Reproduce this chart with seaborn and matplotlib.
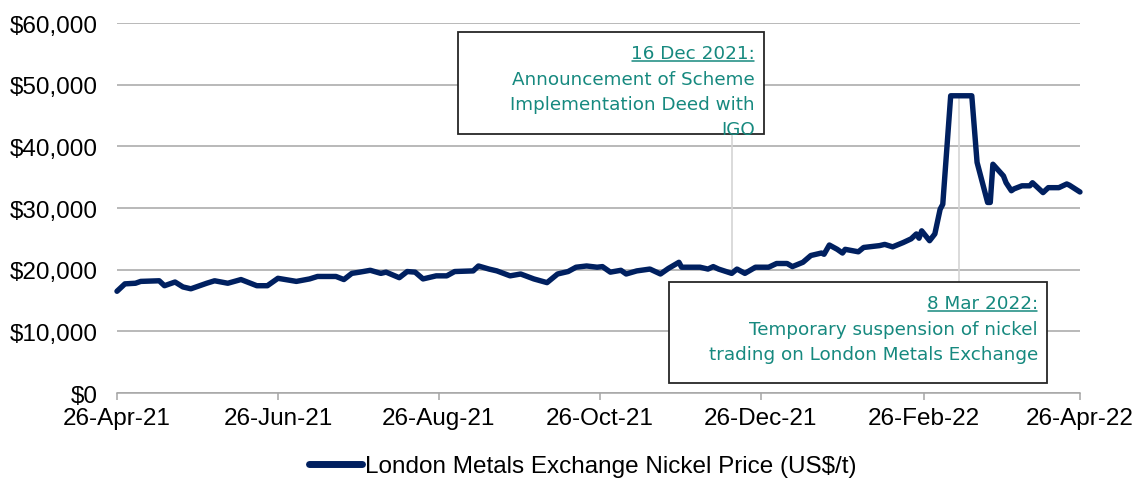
import pandas as pd
import seaborn as sns
import matplotlib.pyplot as plt
import matplotlib.dates as mdates
from matplotlib.patches import Rectangle
from matplotlib.lines import Line2D
from matplotlib.transforms import IdentityTransform

# LME nickel price (US$/t)
dates = [
    '2021-04-26', '2021-04-29', '2021-05-03', '2021-05-05', '2021-05-12', '2021-05-14',
    '2021-05-18', '2021-05-21', '2021-05-24', '2021-05-30', '2021-06-02', '2021-06-07',
    '2021-06-12', '2021-06-18', '2021-06-22', '2021-06-26', '2021-07-03', '2021-07-08',
    '2021-07-11', '2021-07-18', '2021-07-21', '2021-07-24', '2021-07-27', '2021-07-31',
    '2021-08-04', '2021-08-06', '2021-08-11', '2021-08-14', '2021-08-17', '2021-08-20',
    '2021-08-25', '2021-08-29', '2021-09-01', '2021-09-08', '2021-09-10', '2021-09-14',
    '2021-09-17', '2021-09-22', '2021-09-26', '2021-10-01', '2021-10-06', '2021-10-10',
    '2021-10-14', '2021-10-17', '2021-10-21', '2021-10-25', '2021-10-27', '2021-10-30',
    '2021-11-03', '2021-11-05', '2021-11-09', '2021-11-14', '2021-11-18', '2021-11-21',
    '2021-11-25', '2021-11-26', '2021-12-03', '2021-12-06', '2021-12-08', '2021-12-10',
    '2021-12-15', '2021-12-17', '2021-12-20', '2021-12-24', '2021-12-29', '2022-01-01',
    '2022-01-05', '2022-01-07', '2022-01-11', '2022-01-14', '2022-01-18', '2022-01-19',
    '2022-01-21', '2022-01-24', '2022-01-26', '2022-01-27', '2022-02-01', '2022-02-03',
    '2022-02-09', '2022-02-11', '2022-02-14', '2022-02-18', '2022-02-21', '2022-02-23',
    '2022-02-24', '2022-02-25', '2022-02-28', '2022-03-02', '2022-03-04', '2022-03-05',
    '2022-03-08', '2022-03-16', '2022-03-18', '2022-03-22', '2022-03-23', '2022-03-24',
    '2022-03-28', '2022-03-29', '2022-03-31', '2022-04-01', '2022-04-04', '2022-04-07',
    '2022-04-08', '2022-04-12', '2022-04-14', '2022-04-18', '2022-04-21', '2022-04-22',
    '2022-04-26',
]
prices = [
    16500, 17700, 17800, 18100, 18200, 17400,
    18000, 17200, 16900, 17800, 18200, 17800,
    18400, 17400, 17400, 18600, 18100, 18500,
    18900, 18900, 18400, 19400, 19600, 19900,
    19400, 19600, 18700, 19700, 19600, 18500,
    19000, 19000, 19700, 19800, 20600, 20100,
    19800, 19000, 19300, 18500, 17900, 19300,
    19700, 20400, 20600, 20400, 20500, 19600,
    19900, 19300, 19800, 20100, 19300, 20200,
    21200, 20400, 20400, 20100, 20500, 20100,
    19400, 20100, 19400, 20400, 20400, 21000,
    21000, 20500, 21200, 22300, 22700, 22500,
    24000, 23300, 22700, 23300, 22900, 23600,
    23900, 24100, 23700, 24400, 25000, 25800,
    25100, 26300, 24700, 25800, 29800, 30600,
    48200, 48200, 37400, 30900, 30900, 37100,
    35200, 34100, 32800, 33100, 33600, 33600,
    34100, 32500, 33300, 33300, 33900, 33700,
    32600,
]
x_ticks = ['2021-04-26', '2021-06-26', '2021-08-26', '2021-10-26',
           '2021-12-26', '2022-02-26', '2022-04-26']
series_label = 'London Metals Exchange Nickel Price (US$/t)'

note1_date = '2021-12-15'
note1_lines = ['16 Dec 2021:', 'Announcement of Scheme',
               'Implementation Deed with', 'IGO']
note2_date = '2022-03-11'
note2_lines = ['8 Mar 2022:', 'Temporary suspension of nickel',
               'trading on London Metals Exchange']

NAVY = '#002060'
TEAL = '#16897f'
GRID = '#a6a6a6'

sns.set_style('white')
plt.rcParams['font.family'] = ['Liberation Sans', 'DejaVu Sans']
plt.rcParams['text.color'] = 'black'
plt.rcParams['xtick.color'] = 'black'
plt.rcParams['ytick.color'] = 'black'

fig = plt.figure(figsize=(11.38, 4.85), dpi=100)
ax = fig.add_axes([0.1028, 0.1876, 0.8462, 0.7629])

df = pd.DataFrame({'date': pd.to_datetime(dates), 'price': prices})
sns.lineplot(data=df, x='date', y='price', ax=ax, color=NAVY,
             linewidth=3.9, zorder=5)
ax.lines[0].set_solid_capstyle('round')
ax.lines[0].set_solid_joinstyle('round')
ax.lines[0].set_clip_on(False)

ax.set_xlim(pd.Timestamp(x_ticks[0]), pd.Timestamp(x_ticks[-1]))
ax.set_ylim(0, 60000)
ax.set_yticks(range(0, 60001, 10000))
ax.yaxis.set_major_formatter(lambda v, p: f'${v:,.0f}')
ax.set_xticks(pd.to_datetime(x_ticks))
ax.xaxis.set_major_formatter(mdates.DateFormatter('%d-%b-%y'))
ax.set_xlabel('')
ax.set_ylabel('')

ax.grid(axis='y', color=GRID, lw=1.1)
ax.grid(axis='x', visible=False)
ax.set_axisbelow(True)
for s in ['top', 'right', 'left']:
    ax.spines[s].set_visible(False)
ax.spines['bottom'].set_color(GRID)
ax.spines['bottom'].set_linewidth(1.1)
ax.tick_params(axis='x', bottom=True, length=5, width=1.1, color=GRID,
               labelcolor='black', pad=5, labelsize=17.5)
ax.tick_params(axis='y', left=False, length=0, pad=14, labelsize=17.5,
               labelcolor='black')

# pointer lines
ax.plot(pd.to_datetime([note1_date] * 2), [20000, 42000],
        color='#d4d4d4', lw=1.2, zorder=2)
ax.plot(pd.to_datetime([note2_date] * 2), [18000, 48400],
        color='#d4d4d4', lw=1.2, zorder=2)

step = 25.3 / 370
underline_texts = []


def note_box(x0, x1, y0, y1, lines, right, first_base):
    rect = Rectangle((x0, y0), x1 - x0, y1 - y0, transform=ax.transAxes,
                     facecolor='white', edgecolor='#262626', lw=1.3,
                     zorder=6)
    ax.add_patch(rect)
    for i, line in enumerate(lines):
        t = ax.text(right, first_base - i * step, line, transform=ax.transAxes,
                    ha='right', va='baseline', color=TEAL, fontsize=13.2,
                    family=['DejaVu Sans'], zorder=7)
        t.set_clip_path(rect)
        if i == 0:
            underline_texts.append(t)


note_box(0.354, 0.672, 0.700, 0.976, note1_lines, 0.6625, 0.9046)
note_box(0.573, 0.966, 0.027, 0.300, note2_lines, 0.9564, 0.2289)

handle = Line2D([], [], color=NAVY, lw=5, solid_capstyle='round')
fig.legend([handle], [series_label], loc='center',
           bbox_to_anchor=(0.512, 0.037), frameon=False, fontsize=17.5,
           handlelength=2.2, handletextpad=0.1)

fig.canvas.draw()
renderer = fig.canvas.get_renderer()
for t in underline_texts:
    bb = t.get_window_extent(renderer)
    fig.add_artist(Line2D([bb.x0 + 1, bb.x1 - 1], [bb.y0 + 1.5, bb.y0 + 1.5],
                          transform=IdentityTransform(), color=TEAL, lw=1.1))

fig.savefig('out.png', dpi=100)
